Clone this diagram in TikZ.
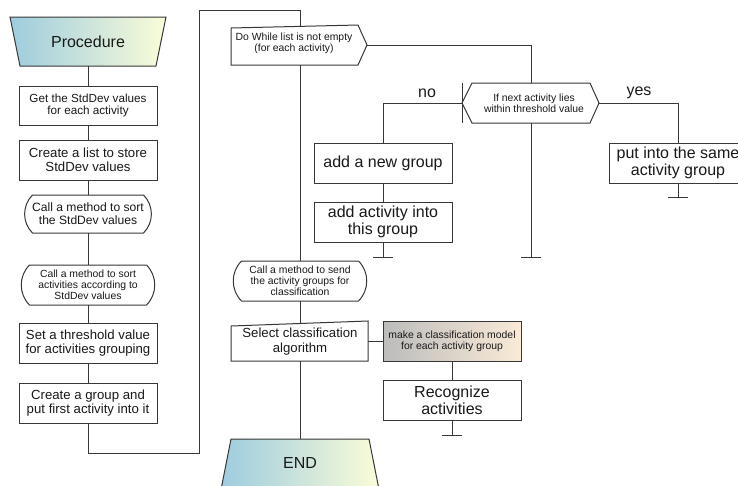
\documentclass[tikz,border=0pt]{standalone}
\usepackage{fontspec}
\setmainfont{Liberation Sans}
\usetikzlibrary{calc}
\definecolor{linec}{RGB}{55,55,55}
\definecolor{txtc}{RGB}{25,25,25}
\definecolor{tblue}{RGB}{158,204,222}
\definecolor{tyellow}{RGB}{250,252,216}
\definecolor{mgray}{RGB}{188,188,188}
\definecolor{mpeach}{RGB}{250,234,214}
\newcommand\fntL{\fontsize{16}{17.2}\selectfont}
\newcommand\fntM{\fontsize{13.2}{14.2}\selectfont}
\newcommand\fntN{\fontsize{12.1}{13.2}\selectfont}
\newcommand\fntT{\fontsize{11.7}{12.6}\selectfont}
\newcommand\fntS{\fontsize{10.4}{11}\selectfont}
\begin{document}
\begin{tikzpicture}[x=1pt,y=-1pt,
  ln/.style={draw=linec,line width=1pt},
  shp/.style={draw=linec,line width=1pt,fill=white},
  grad/.style={draw=linec,line width=1pt,left color=tblue,right color=tyellow},
  box/.style={draw=linec,line width=1pt,fill=white,inner sep=0pt,align=center,
    minimum width=138pt,minimum height=40pt,text=txtc},
  lbl/.style={inner sep=0pt,align=center,text=txtc}]
\useasboundingbox (0,0) rectangle (738,485);

% ---------- left column ----------
\path[grad] (10,17) -- (166,17) -- (156,66) -- (20,66) -- cycle;
\node[lbl,font=\fntL,minimum width=146pt,minimum height=49pt] (proc) at (88,41.5) {Procedure};

\node[box,font=\fntT,minimum height=39pt] (b1) at (88,105.5) {Get the StdDev values\\for each activity};
\node[box,font=\fntM] (b2) at (88,160) {Create a list to store\\StdDev values};

\path[shp] (32.5,195) -- (143.5,195) .. controls (154,205.5) and (154,222.5) .. (143.5,233)
  -- (32.5,233) .. controls (22,222.5) and (22,205.5) .. (32.5,195) -- cycle;
\node[lbl,font=\fntN,minimum width=127pt,minimum height=38pt] (b3) at (88,214) {Call a method to sort\\the StdDev values};

\path[shp] (29.5,265) -- (146.5,265) .. controls (157.5,276) and (157.5,294) .. (146.5,305)
  -- (29.5,305) .. controls (18.5,294) and (18.5,276) .. (29.5,265) -- cycle;
\node[lbl,font=\fntS,minimum width=133pt,minimum height=40pt] (b4) at (88,285) {Call a method to sort\\activities according to\\StdDev values};

\node[box,font=\fntM] (b5) at (88,343) {Set a threshold value\\for activities grouping};
\node[box,font=\fntM] (b6) at (88,403) {Create a group and\\put first activity into it};

\draw[ln] (proc.south) -- (b1.north);
\draw[ln] (b1.south) -- (b2.north);
\draw[ln] (b2.south) -- (b3.north);
\draw[ln] (b3.south) -- (b4.north);
\draw[ln] (b4.south) -- (b5.north);
\draw[ln] (b5.south) -- (b6.north);

% ---------- loop ----------
\coordinate (l1) at (88,453);
\coordinate (l2) at (199,453);
\coordinate (l3) at (199,10);
\coordinate (l4) at (300,10);
\coordinate (dwT) at (300,26.4);
\coordinate (dwR) at (367,45);
\coordinate (dwB) at (300,65);
\draw[ln] (b6.south) -- (l1) -- (l2) -- (l3) -- (l4) -- (dwT);

\path[shp] (231,28) -- (358,25) -- (367,45) -- (358,65) -- (231,65) -- cycle;
\node[lbl,font=\fntS] (dw) at (294,43) {Do While list is not empty\\(for each activity)};

% ---------- decision ----------
\coordinate (c5) at (531,45);
\coordinate (hxT) at (531,83);
\coordinate (hxL) at (462,103);
\coordinate (hxR) at (599,103);
\coordinate (hxB) at (531,123);
\draw[ln] (dwR) -- (c5) -- (hxT);
\path[shp] (hxL) -- (472,83) -- (590,83) -- (hxR) -- (590,123) -- (472,123) -- cycle;
\coordinate (tkA) at (462,83);
\coordinate (tkB) at (462,123);
\draw[ln] (tkA) -- (tkB);
\node[lbl,font=\fntS] (hx) at (534,103.5) {If next activity lies\\within threshold value};

% no branch
\coordinate (c6) at (383,103);
\node[box,font=\fntL] (anb) at (383,163) {add a new group};
\node[box,font=\fntL] (aai) at (383,222) {add activity into\\this group};
\draw[ln] (hxL) -- (c6) -- (anb.north);
\draw[ln] (anb.south) -- (aai.north);
\node[lbl,font=\fntL] (no) at (427,93) {no};
\coordinate (t1) at (383,257);
\draw[ln] (aai.south) -- (t1);
\draw[ln] ([xshift=-10pt]t1) -- ([xshift=10pt]t1);

% middle
\coordinate (t2) at (531,257);
\draw[ln] (hxB) -- (t2);
\draw[ln] ([xshift=-10pt]t2) -- ([xshift=10pt]t2);

% yes branch
\coordinate (c7) at (678,103);
\node[box,font=\fntL] (pis) at (678,163) {put into the same\\activity group};
\draw[ln] (hxR) -- (c7) -- (pis.north);
\node[lbl,font=\fntL] (yes) at (639,93) {yes};
\coordinate (t3) at (678,197);
\draw[ln] (pis.south) -- (t3);
\draw[ln] ([xshift=-10pt]t3) -- ([xshift=10pt]t3);

% ---------- classification ----------
\path[shp] (241.5,261) -- (358.5,261) .. controls (369.5,272) and (369.5,290) .. (358.5,301)
  -- (241.5,301) .. controls (230.5,290) and (230.5,272) .. (241.5,261) -- cycle;
\node[lbl,font=\fntS,minimum width=133pt,minimum height=40pt] (cm) at (300,281) {Call a method to send\\the activity groups for\\classification};
\draw[ln] (dwB) -- (cm.north);

\path[shp] (231,326) -- (368,321) -- (368,361) -- (231,361) -- cycle;
\node[lbl,font=\fntM] (sel) at (300,341.5) {Select classification\\algorithm};
\coordinate (selT) at (300,323.5);
\coordinate (selR) at (368,341);
\coordinate (selB) at (300,361);
\draw[ln] (cm.south) -- (selT);

\node[box,font=\fntS,left color=mgray,right color=mpeach] (mk) at (452,341) {make a classification model\\for each activity group};
\draw[ln] (selR) -- (mk.west);
\node[box,font=\fntL] (rec) at (452,400) {Recognize\\activities};
\draw[ln] (mk.south) -- (rec.north);
\coordinate (t4) at (452,435);
\draw[ln] (rec.south) -- (t4);
\draw[ln] ([xshift=-10pt]t4) -- ([xshift=10pt]t4);

% END
\coordinate (endT) at (300,439);
\draw[ln] (selB) -- (endT);
\path[grad] (231,439) -- (369,439) -- (378.5,487) -- (221.5,487) -- cycle;
\node[lbl,font=\fntL] (endn) at (300,463) {END};
\end{tikzpicture}
\end{document}
